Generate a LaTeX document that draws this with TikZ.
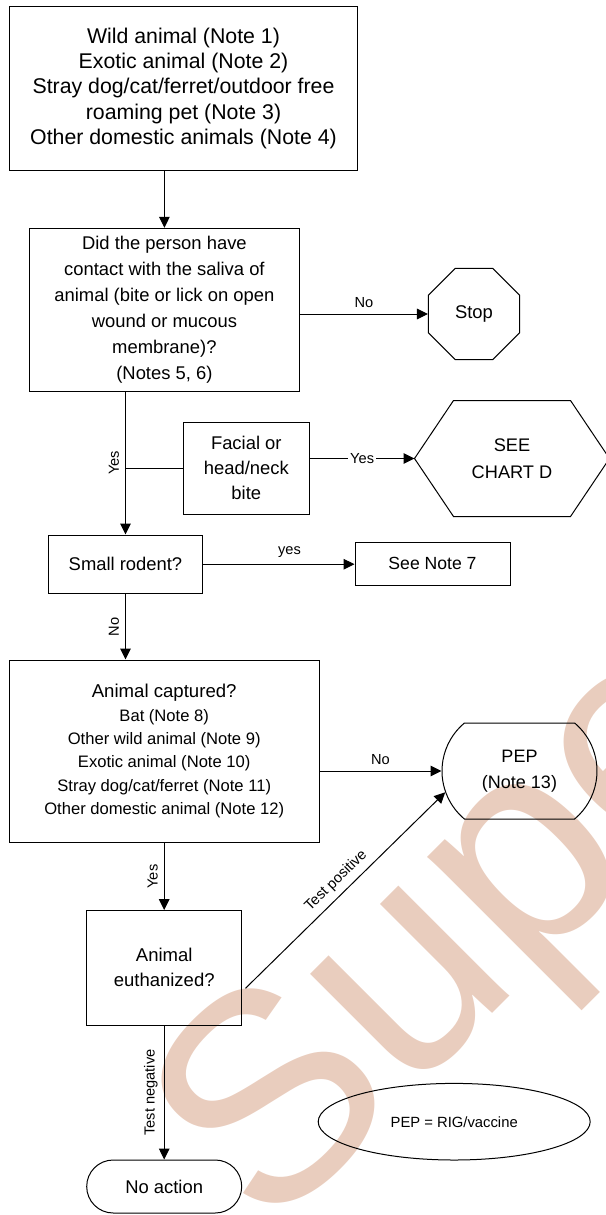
\documentclass[tikz,border=0pt]{standalone}
\usepackage{fontspec}
\setmainfont{Liberation Sans}
\usetikzlibrary{arrows.meta,shapes.geometric,shapes.misc,calc}
\definecolor{wmark}{RGB}{233,205,190}

\begin{document}
\begin{tikzpicture}[x=0.5pt,y=-0.5pt,line width=0.5pt,
  every node/.style={font=\fontsize{9.2}{13}\selectfont, align=center, inner sep=0pt},
  box/.style={draw, rectangle},
  term/.style={draw, rounded rectangle, rounded rectangle arc length=100},
  arr/.style={-{Triangle[length=5.5pt,width=5.3pt]}},
  lbl/.style={font=\fontsize{7.3}{8}\selectfont, inner sep=3pt}]
\useasboundingbox (0,0) rectangle (605,1215);

% watermark
\begin{scope}
\clip (0,0) rectangle (605,1215);
\node[rotate=45, anchor=base west, text=wmark, font=\fontsize{148}{148}\selectfont] (wm) at (268,1238) {Supe};
\end{scope}

\node[box, minimum width=174.2pt, minimum height=81.7pt, font=\fontsize{10.65}{12.7}\selectfont] (wild) at (183.5,88.3)
  {Wild animal (Note 1)\\Exotic animal (Note 2)\\Stray dog/cat/ferret/outdoor free\\roaming pet (Note 3)\\Other domestic animals (Note 4)};
\node[box, minimum width=135pt, minimum height=81.4pt] (contact) at (164.4,309.7)
  {Did the person have\\contact with the saliva of\\animal (bite or lick on open\\wound or mucous\\membrane)?\\(Notes 5, 6)};
\node[draw, regular polygon, regular polygon sides=8, minimum size=49.3pt] (stop) at (474,314) {Stop};

\node[box, minimum width=63pt, minimum height=45.8pt, font=\fontsize{9.2}{12.5}\selectfont] (facial) at (246.3,468.2) {Facial or\\head/neck\\bite};
\node[minimum width=97pt, minimum height=57.5pt, font=\fontsize{9.1}{13.3}\selectfont] (chartd) at (512,458.5) {SEE\\CHART D};
\draw (chartd.west) -- ($(chartd.north west)+(39,0)$) -- ($(chartd.north east)+(-39,0)$) -- (chartd.east)
  -- ($(chartd.south east)+(-39,0)$) -- ($(chartd.south west)+(39,0)$) -- cycle;

\node[box, minimum width=77.2pt, minimum height=29.2pt] (rodent) at (125.5,564.2) {Small rodent?};
\node[box, minimum width=77.5pt, minimum height=21.2pt, font=\fontsize{8.8}{11}\selectfont] (note7) at (432.5,563.8) {See Note 7};

\node[box, minimum width=154.8pt, minimum height=91.2pt, font=\fontsize{8.3}{11.7}\selectfont] (captured) at (164.2,751.2)
  {{\fontsize{9.3}{11.7}\selectfont Animal captured?}\\Bat (Note 8)\\Other wild animal (Note 9)\\Exotic animal (Note 10)\\Stray dog/cat/ferret (Note 11)\\Other domestic animal (Note 12)};
\node[term, minimum width=77.5pt, minimum height=48pt, font=\fontsize{9}{13}\selectfont] (pep) at (519.5,771) {PEP\\(Note 13)};
\node[box, minimum width=77.5pt, minimum height=57.2pt, font=\fontsize{9.25}{12.5}\selectfont] (euth) at (164.2,967.8) {Animal\\euthanized?};
\node[term, rounded rectangle arc length=180, minimum width=77.5pt, minimum height=26.5pt] (noact) at (164.2,1186.5) {No action};
\node[draw, ellipse, minimum width=136pt, minimum height=38.3pt, font=\fontsize{7.4}{9}\selectfont] (key) at (454.2,1121.7) {PEP = RIG/vaccine};

\draw[arr] (wild.south -| contact.north) -- (contact.north);
\draw[arr] (contact.east |- stop.west) -- node[lbl, above] {No} (stop.west);
\draw[arr] (contact.south -| rodent.north) -- node[lbl, rotate=90, anchor=south] {Yes} (rodent.north);
\draw (facial.west -| rodent.north) -- (facial.west);
\draw[arr] (facial.east |- chartd.west) -- node[lbl, fill=white, inner sep=1pt] {Yes} (chartd.west);
\draw[arr] (rodent.east) -- node[lbl, above, pos=0.57] {yes} (rodent.east -| note7.west);
\draw[arr] (rodent.south) -- node[lbl, rotate=90, anchor=south] {No} (rodent.south |- captured.north);
\draw[arr] (captured.east |- pep.west) -- node[lbl, above] {No} (pep.west);
\draw[arr] (captured.south) -- node[lbl, rotate=90, anchor=south] {Yes} (euth.north);
\draw[arr] ([shift={(3.3,20.5)}]euth.east) -- node[lbl, sloped, above] {Test positive} (pep.196);
\draw[arr] (euth.south) -- node[lbl, rotate=90, anchor=south] {Test negative} (noact.north);

\end{tikzpicture}
\end{document}
